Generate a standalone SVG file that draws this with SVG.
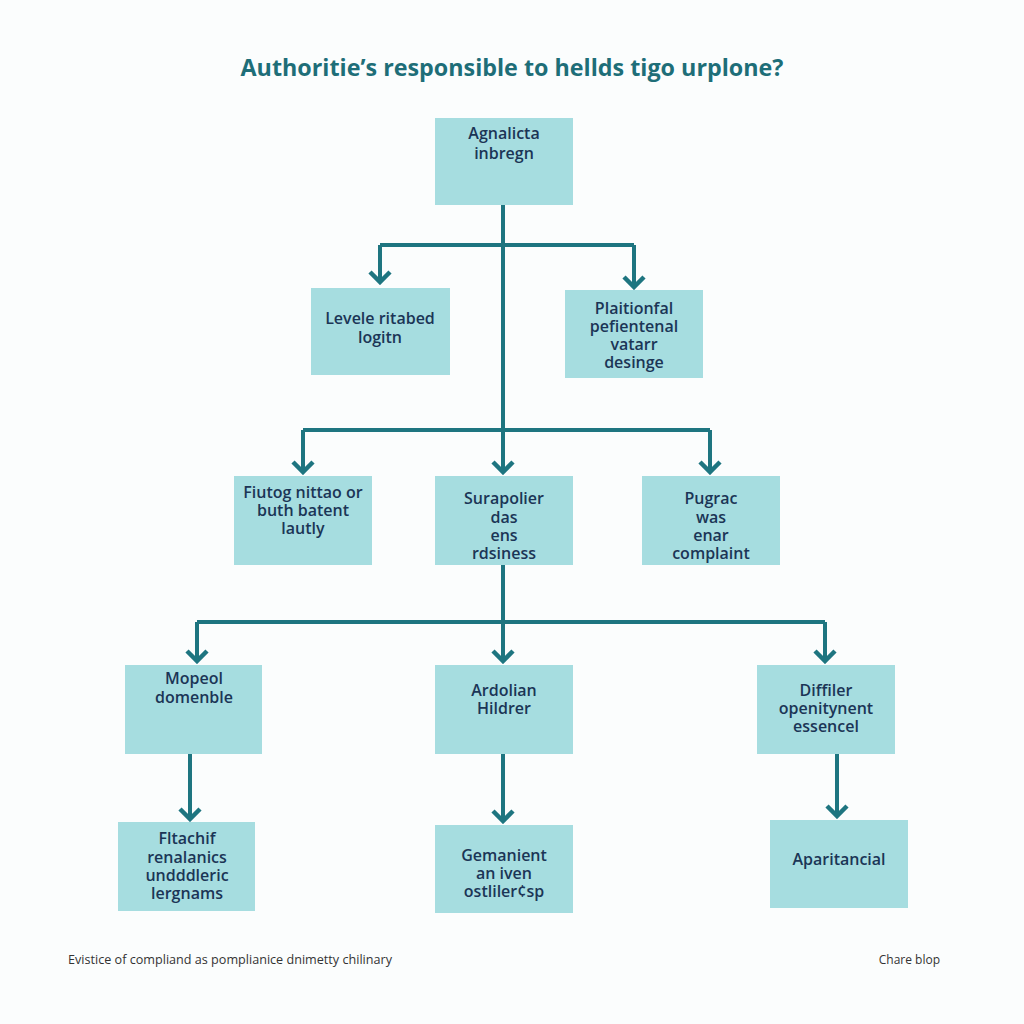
<svg xmlns="http://www.w3.org/2000/svg" width="1024" height="1024" viewBox="0 0 1024 1024">
<style>
.box{fill:#a6dde0;}
.t{font-family:"Open Sans","Liberation Sans",sans-serif;font-weight:600;font-size:16px;fill:#1b3556;text-anchor:middle;}
.c{fill:none;stroke:#1e7580;stroke-width:4;}
.foot{font-family:"Open Sans","Liberation Sans",sans-serif;font-size:12px;fill:#333;}
</style>
<defs>
<marker id="ah" viewBox="-14 -12 16 24" markerWidth="16" markerHeight="24" refX="0" refY="0" orient="auto" markerUnits="userSpaceOnUse">
<path d="M-11,-10 L-1,0 L-11,10" fill="none" stroke="#1e7580" stroke-width="4.5"/>
</marker>
</defs>
<rect width="1024" height="1024" fill="#fbfdfd"/>
<text x="512" y="76" font-family="Open Sans, Liberation Sans, sans-serif" font-weight="700" font-size="24" fill="#1e6e78" text-anchor="middle" textLength="543" lengthAdjust="spacingAndGlyphs">Authoritie’s responsible to hellds tigo urplone?</text>
<g id="connectors">
<path class="c" d="M503,205 V473" marker-end="url(#ah)"/>
<path class="c" d="M380,245 H634"/>
<path class="c" d="M380,245 V283" marker-end="url(#ah)"/>
<path class="c" d="M634,245 V288" marker-end="url(#ah)"/>
<path class="c" d="M303,430 H710"/>
<path class="c" d="M303,430 V473" marker-end="url(#ah)"/>
<path class="c" d="M710,430 V473" marker-end="url(#ah)"/>
<path class="c" d="M503,565 V662" marker-end="url(#ah)"/>
<path class="c" d="M197,622 H825"/>
<path class="c" d="M197,622 V662" marker-end="url(#ah)"/>
<path class="c" d="M825,622 V662" marker-end="url(#ah)"/>
<path class="c" d="M190,754 V820" marker-end="url(#ah)"/>
<path class="c" d="M503,754 V822" marker-end="url(#ah)"/>
<path class="c" d="M837,754 V817" marker-end="url(#ah)"/>
</g>
<g id="root"><rect class="box" x="435" y="118" width="138" height="87"/>
<text class="t" x="504" y="139">Agnalicta</text><text class="t" x="504" y="159">inbregn</text></g>
<g id="l1a"><rect class="box" x="311" y="288" width="139" height="87"/>
<text class="t" x="380" y="324">Levele ritabed</text><text class="t" x="380" y="343">logitn</text></g>
<g id="l1b"><rect class="box" x="565" y="290" width="138" height="88"/>
<text class="t" x="634" y="314">Plaitionfal</text><text class="t" x="634" y="332">pefientenal</text><text class="t" x="634" y="350">vatarr</text><text class="t" x="634" y="368">desinge</text></g>
<g id="l2a"><rect class="box" x="234" y="476" width="138" height="89"/>
<text class="t" x="303" y="498">Fiutog nittao or</text><text class="t" x="303" y="516">buth batent</text><text class="t" x="303" y="534">lautly</text></g>
<g id="l2b"><rect class="box" x="435" y="476" width="138" height="89"/>
<text class="t" x="504" y="504">Surapolier</text><text class="t" x="504" y="523">das</text><text class="t" x="504" y="541">ens</text><text class="t" x="504" y="559">rdsiness</text></g>
<g id="l2c"><rect class="box" x="642" y="476" width="138" height="89"/>
<text class="t" x="711" y="504">Pugrac</text><text class="t" x="711" y="523">was</text><text class="t" x="711" y="541">enar</text><text class="t" x="711" y="559">complaint</text></g>
<g id="l3a"><rect class="box" x="125" y="665" width="137" height="89"/>
<text class="t" x="194" y="684">Mopeol</text><text class="t" x="194" y="703">domenble</text></g>
<g id="l3b"><rect class="box" x="435" y="665" width="138" height="89"/>
<text class="t" x="504" y="696">Ardolian</text><text class="t" x="504" y="714">Hildrer</text></g>
<g id="l3c"><rect class="box" x="757" y="665" width="138" height="89"/>
<text class="t" x="826" y="696">Diffiler</text><text class="t" x="826" y="714">openitynent</text><text class="t" x="826" y="732">essencel</text></g>
<g id="l4a"><rect class="box" x="118" y="822" width="137" height="89"/>
<text class="t" x="187" y="844">Fltachif</text><text class="t" x="187" y="863">renalanics</text><text class="t" x="187" y="881">undddleric</text><text class="t" x="187" y="899">lergnams</text></g>
<g id="l4b"><rect class="box" x="435" y="825" width="138" height="88"/>
<text class="t" x="504" y="861">Gemanient</text><text class="t" x="504" y="879">an iven</text><text class="t" x="504" y="897">ostliler¢sp</text></g>
<g id="l4c"><rect class="box" x="770" y="820" width="138" height="88"/>
<text class="t" x="839" y="865">Aparitancial</text></g>
<text class="foot" x="68" y="964" textLength="324" lengthAdjust="spacingAndGlyphs">Evistice of compliand as pomplianice dnimetty chilinary</text>
<text class="foot" x="940" y="964" text-anchor="end">Chare blop</text>
</svg>
